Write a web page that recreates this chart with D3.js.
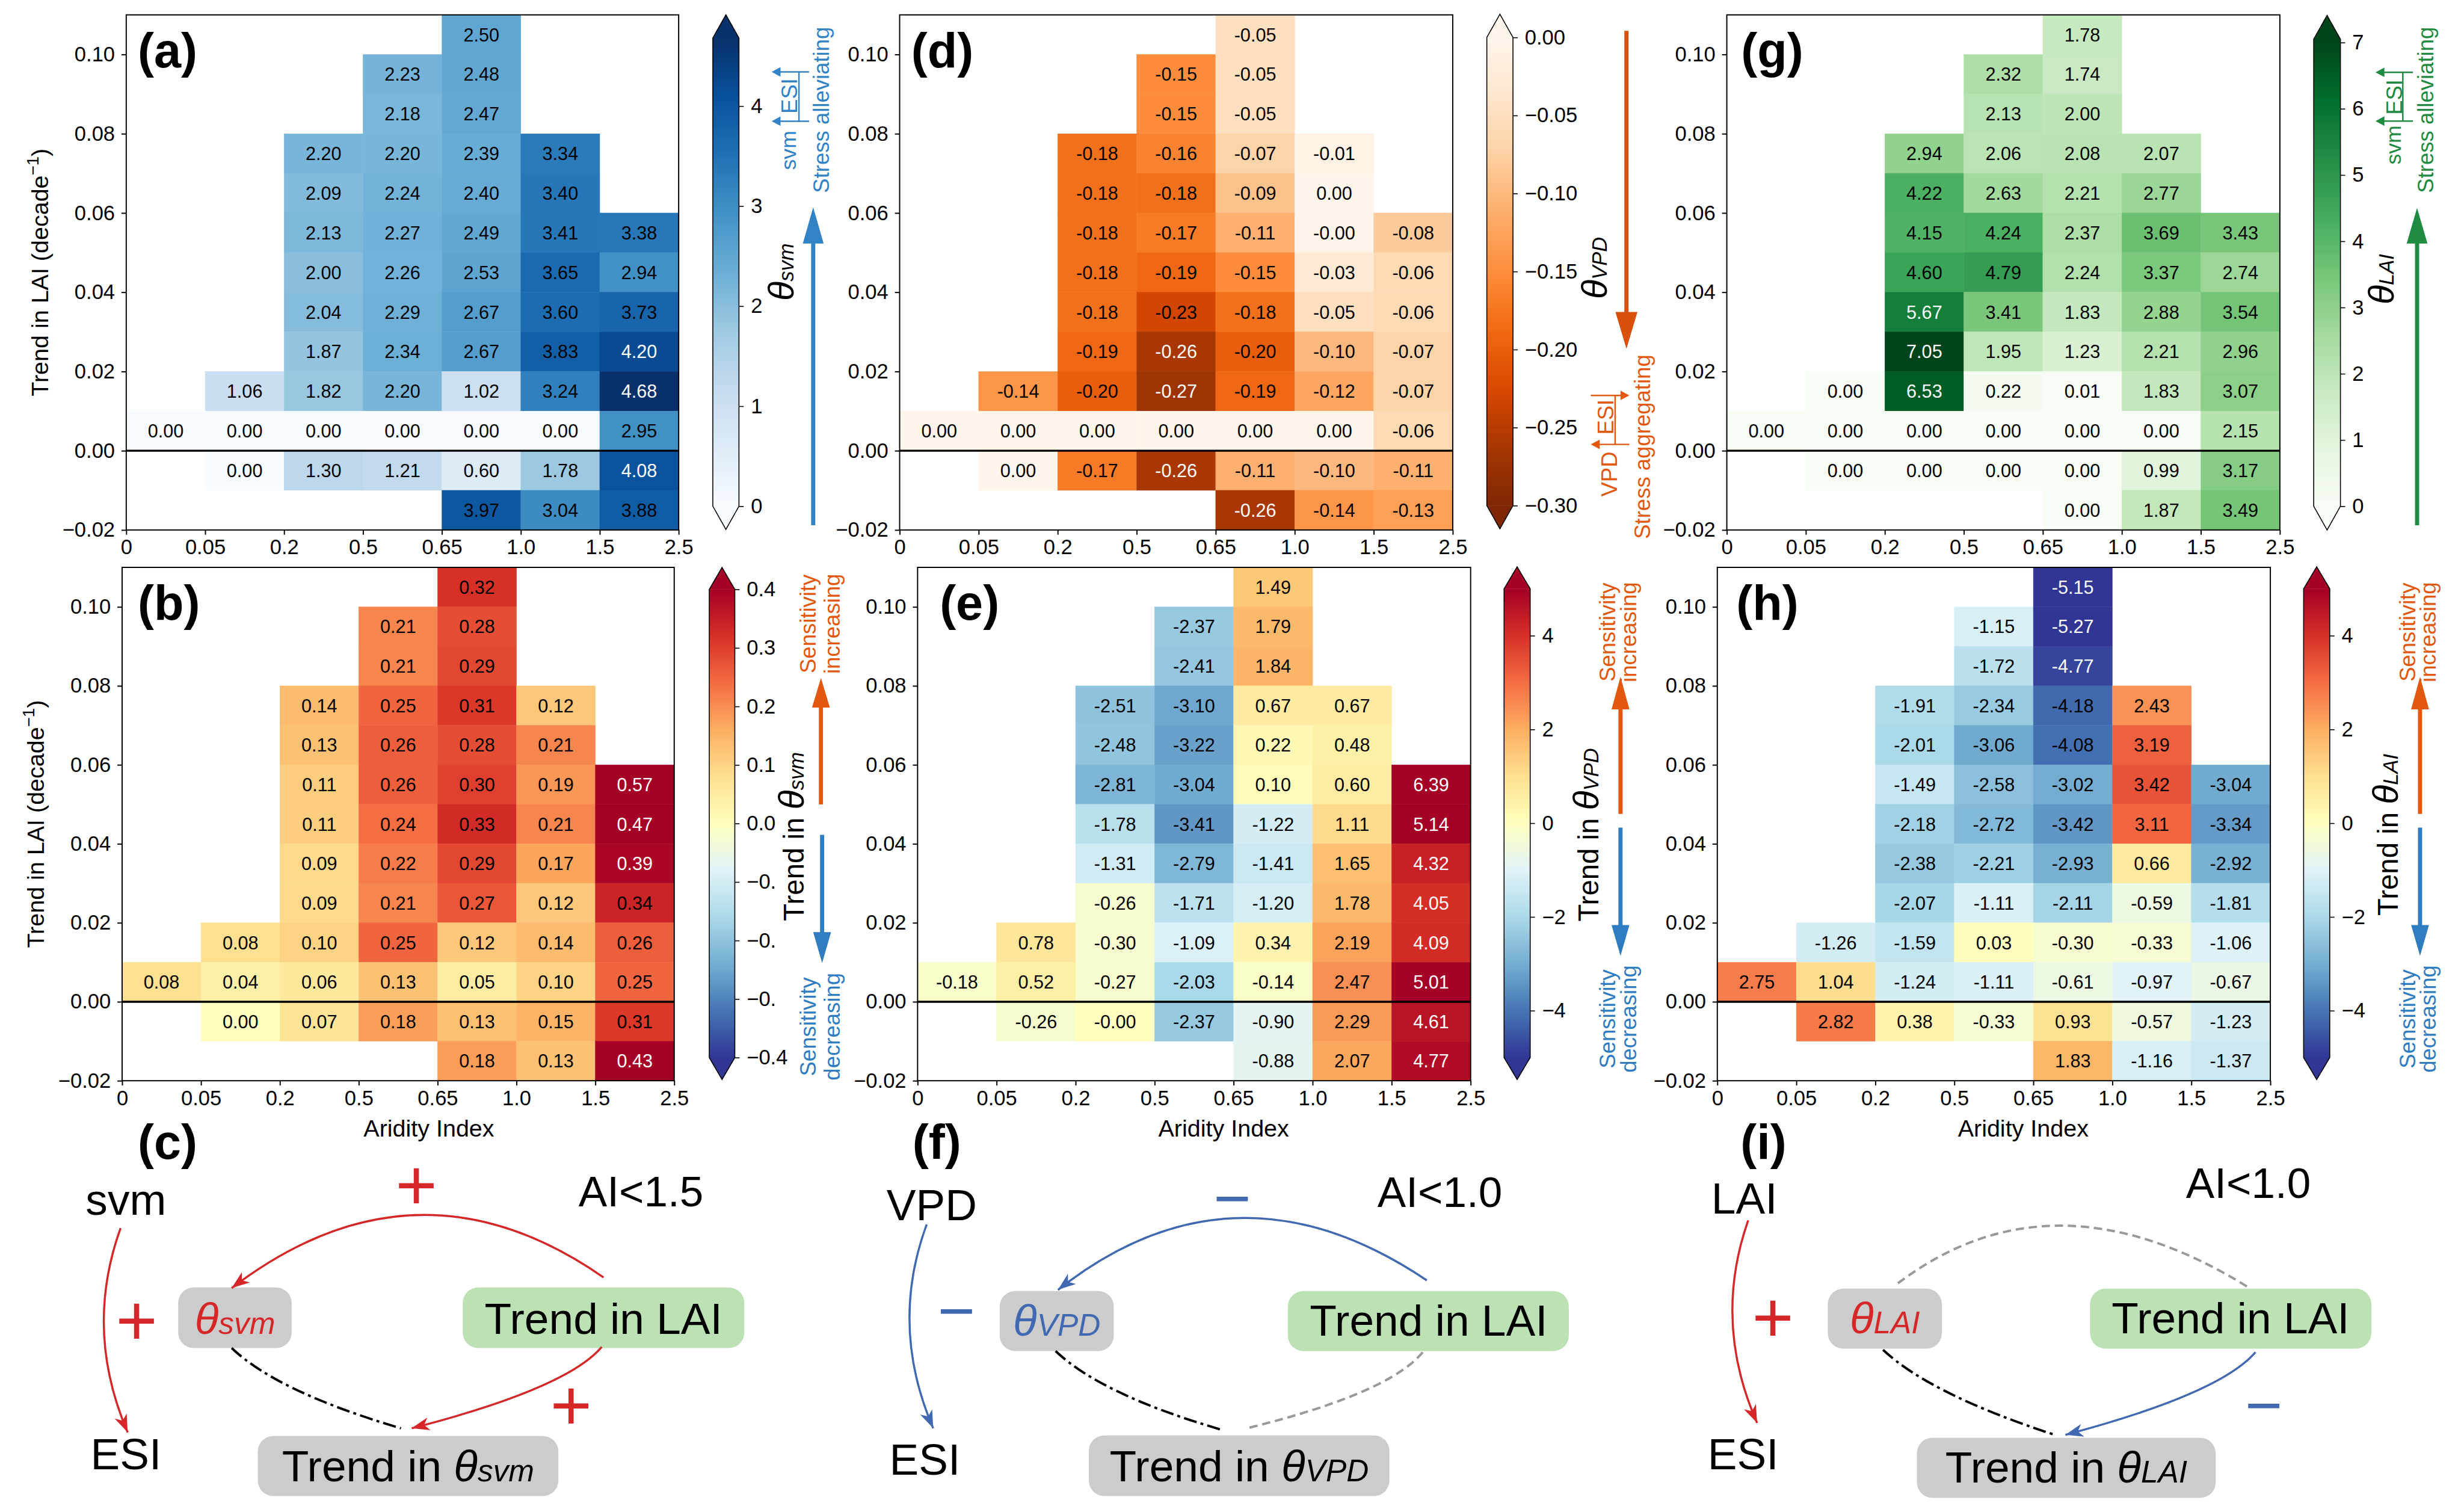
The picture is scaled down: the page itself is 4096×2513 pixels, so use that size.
<!DOCTYPE html>
<html>
<head>
<meta charset="utf-8">
<script src="https://cdn.jsdelivr.net/npm/d3@7"></script>
<style>
  body { margin: 0; background: #fff; }
  svg { display: block; }
  text { font-family: "Liberation Sans", Arial, Helvetica, sans-serif; }
</style>
</head>
<body>
<div id="chart"></div>
<script>
// ---------- DATA ----------
const aiTicks = ["0", "0.05", "0.2", "0.5", "0.65", "1.0", "1.5", "2.5"];
const trendTicks = [-0.02, 0.00, 0.02, 0.04, 0.06, 0.08, 0.10];
// lower edge of each row, top row first
const rowLows = [0.10, 0.09, 0.08, 0.07, 0.06, 0.05, 0.04, 0.03, 0.02, 0.01, 0.00, -0.01, -0.02];
const _ = null;

// (a) theta_svm
const thetaSvm = [
  [_, _, _, _, 2.50, _, _],
  [_, _, _, 2.23, 2.48, _, _],
  [_, _, _, 2.18, 2.47, _, _],
  [_, _, 2.20, 2.20, 2.39, 3.34, _],
  [_, _, 2.09, 2.24, 2.40, 3.40, _],
  [_, _, 2.13, 2.27, 2.49, 3.41, 3.38],
  [_, _, 2.00, 2.26, 2.53, 3.65, 2.94],
  [_, _, 2.04, 2.29, 2.67, 3.60, 3.73],
  [_, _, 1.87, 2.34, 2.67, 3.83, 4.20],
  [_, 1.06, 1.82, 2.20, 1.02, 3.24, 4.68],
  [0.00, 0.00, 0.00, 0.00, 0.00, 0.00, 2.95],
  [_, 0.00, 1.30, 1.21, 0.60, 1.78, 4.08],
  [_, _, _, _, 3.97, 3.04, 3.88]
];
// (b) trend in theta_svm
const trendSvm = [
  [_, _, _, _, 0.32, _, _],
  [_, _, _, 0.21, 0.28, _, _],
  [_, _, _, 0.21, 0.29, _, _],
  [_, _, 0.14, 0.25, 0.31, 0.12, _],
  [_, _, 0.13, 0.26, 0.28, 0.21, _],
  [_, _, 0.11, 0.26, 0.30, 0.19, 0.57],
  [_, _, 0.11, 0.24, 0.33, 0.21, 0.47],
  [_, _, 0.09, 0.22, 0.29, 0.17, 0.39],
  [_, _, 0.09, 0.21, 0.27, 0.12, 0.34],
  [_, 0.08, 0.10, 0.25, 0.12, 0.14, 0.26],
  [0.08, 0.04, 0.06, 0.13, 0.05, 0.10, 0.25],
  [_, 0.00, 0.07, 0.18, 0.13, 0.15, 0.31],
  [_, _, _, _, 0.18, 0.13, 0.43]
];
// (d) theta_VPD
const thetaVpd = [
  [_, _, _, _, -0.05, _, _],
  [_, _, _, -0.15, -0.05, _, _],
  [_, _, _, -0.15, -0.05, _, _],
  [_, _, -0.18, -0.16, -0.07, -0.01, _],
  [_, _, -0.18, -0.18, -0.09, 0.00, _],
  [_, _, -0.18, -0.17, -0.11, -0.002, -0.08],
  [_, _, -0.18, -0.19, -0.15, -0.03, -0.06],
  [_, _, -0.18, -0.23, -0.18, -0.05, -0.06],
  [_, _, -0.19, -0.26, -0.20, -0.10, -0.07],
  [_, -0.14, -0.20, -0.27, -0.19, -0.12, -0.07],
  [0.00, 0.00, 0.00, 0.00, 0.00, 0.00, -0.06],
  [_, 0.00, -0.17, -0.26, -0.11, -0.10, -0.11],
  [_, _, _, _, -0.26, -0.14, -0.13]
];
// (e) trend in theta_VPD
const trendVpd = [
  [_, _, _, _, 1.49, _, _],
  [_, _, _, -2.37, 1.79, _, _],
  [_, _, _, -2.41, 1.84, _, _],
  [_, _, -2.51, -3.10, 0.67, 0.67, _],
  [_, _, -2.48, -3.22, 0.22, 0.48, _],
  [_, _, -2.81, -3.04, 0.10, 0.60, 6.39],
  [_, _, -1.78, -3.41, -1.22, 1.11, 5.14],
  [_, _, -1.31, -2.79, -1.41, 1.65, 4.32],
  [_, _, -0.26, -1.71, -1.20, 1.78, 4.05],
  [_, 0.78, -0.30, -1.09, 0.34, 2.19, 4.09],
  [-0.18, 0.52, -0.27, -2.03, -0.14, 2.47, 5.01],
  [_, -0.26, -0.002, -2.37, -0.90, 2.29, 4.61],
  [_, _, _, _, -0.88, 2.07, 4.77]
];
// (g) theta_LAI
const thetaLai = [
  [_, _, _, _, 1.78, _, _],
  [_, _, _, 2.32, 1.74, _, _],
  [_, _, _, 2.13, 2.00, _, _],
  [_, _, 2.94, 2.06, 2.08, 2.07, _],
  [_, _, 4.22, 2.63, 2.21, 2.77, _],
  [_, _, 4.15, 4.24, 2.37, 3.69, 3.43],
  [_, _, 4.60, 4.79, 2.24, 3.37, 2.74],
  [_, _, 5.67, 3.41, 1.83, 2.88, 3.54],
  [_, _, 7.05, 1.95, 1.23, 2.21, 2.96],
  [_, 0.00, 6.53, 0.22, 0.01, 1.83, 3.07],
  [0.00, 0.00, 0.00, 0.00, 0.00, 0.00, 2.15],
  [_, 0.00, 0.00, 0.00, 0.00, 0.99, 3.17],
  [_, _, _, _, 0.00, 1.87, 3.49]
];
// (h) trend in theta_LAI
const trendLai = [
  [_, _, _, _, -5.15, _, _],
  [_, _, _, -1.15, -5.27, _, _],
  [_, _, _, -1.72, -4.77, _, _],
  [_, _, -1.91, -2.34, -4.18, 2.43, _],
  [_, _, -2.01, -3.06, -4.08, 3.19, _],
  [_, _, -1.49, -2.58, -3.02, 3.42, -3.04],
  [_, _, -2.18, -2.72, -3.42, 3.11, -3.34],
  [_, _, -2.38, -2.21, -2.93, 0.66, -2.92],
  [_, _, -2.07, -1.11, -2.11, -0.59, -1.81],
  [_, -1.26, -1.59, 0.03, -0.30, -0.33, -1.06],
  [2.75, 1.04, -1.24, -1.11, -0.61, -0.97, -0.67],
  [_, 2.82, 0.38, -0.33, 0.93, -0.57, -1.23],
  [_, _, _, _, 1.83, -1.16, -1.37]
];

// colorbar ticks
const cbTicksSvm = [0, 1, 2, 3, 4];
const cbTicksTrendSvm = [0.4, 0.3, 0.2, 0.1, 0.0, -0.1, -0.2, -0.3, -0.4];
const cbLabelsTrendSvm = ["0.4", "0.3", "0.2", "0.1", "0.0", "\u22120.", "\u22120.", "\u22120.", "\u22120.4"];
const cbTicksVpd = [0, -0.05, -0.10, -0.15, -0.20, -0.25, -0.30];
const cbTicksTrend = [-4, -2, 0, 2, 4];
const cbTicksLai = [0, 1, 2, 3, 4, 5, 6, 7];

// ---------- SETUP ----------
const svg = d3.select("#chart").append("svg")
  .attr("width", 4096).attr("height", 2513);
const root = svg.append("g").attr("transform", "scale(" + (4096 / 4148) + ")");

const minusFmt = d3.format(".2f");

function seqScale(scheme, vmin, vmax) {
  return d3.scaleLinear()
    .domain(scheme.map((s, i) => vmin + i * (vmax - vmin) / (scheme.length - 1)))
    .range(scheme).clamp(true);
}
const rdylbuR = d3.schemeRdYlBu[11].slice().reverse();
const orangesR = d3.schemeOranges[9].slice().reverse();

const cBlue = "#3283c6", cOrange = "#e2580e", cGreen = "#1f8b42", cSensBlue = "#2f7dc0";

// ---------- HEATMAPS ----------
function drawHeatmap(p) {
  const g = root.append("g");
  const x = d3.scaleLinear().domain([0, 7]).range([p.left, p.right]);
  const y = d3.scaleLinear().domain([-0.02, 0.11]).range([p.bottom, p.top]);

  const cells = [];
  p.data.forEach((row, r) => row.forEach((v, c) => { if (v !== null) cells.push({ r, c, v }); }));

  g.selectAll("rect.cell").data(cells).join("rect")
    .attr("class", "cell")
    .attr("x", d => x(d.c))
    .attr("y", d => y(rowLows[d.r] + 0.01))
    .attr("width", d => x(d.c + 1) - x(d.c))
    .attr("height", d => y(rowLows[d.r]) - y(rowLows[d.r] + 0.01))
    .attr("fill", d => p.color(d.v))
    .attr("stroke", d => p.color(d.v))
    .attr("stroke-width", 0.5);

  g.selectAll("text.cell").data(cells).join("text")
    .attr("class", "cell")
    .attr("x", d => (x(d.c) + x(d.c + 1)) / 2)
    .attr("y", d => y(rowLows[d.r] + 0.005))
    .attr("dy", "0.36em")
    .attr("text-anchor", "middle")
    .attr("font-size", 31)
    .attr("fill", d => p.white(d.v) ? "#fff" : "#000")
    .text(d => d.v.toFixed(2));

  // zero line
  g.append("line")
    .attr("x1", p.left).attr("x2", p.right)
    .attr("y1", y(0)).attr("y2", y(0))
    .attr("stroke", "#000").attr("stroke-width", 3.5);

  // frame
  g.append("rect")
    .attr("x", p.left).attr("y", p.top)
    .attr("width", p.right - p.left).attr("height", p.bottom - p.top)
    .attr("fill", "none").attr("stroke", "#000").attr("stroke-width", 2);

  const ya = g.append("g")
    .attr("transform", `translate(${p.left},0)`)
    .call(d3.axisLeft(y).tickValues(trendTicks).tickFormat(minusFmt).tickSize(8).tickPadding(11));
  const xa = g.append("g")
    .attr("transform", `translate(0,${p.bottom})`)
    .call(d3.axisBottom(x).tickValues(d3.range(8)).tickFormat(i => aiTicks[i]).tickSize(8).tickPadding(8));
  [ya, xa].forEach(a => {
    a.attr("font-size", 35).attr("font-family", null);
    a.select(".domain").remove();
    a.selectAll(".tick line").attr("stroke-width", 2);
  });

  if (p.ylabelX) {
    const t = g.append("text")
      .attr("transform", `translate(${p.ylabelX},${(p.top + p.bottom) / 2}) rotate(-90)`)
      .attr("text-anchor", "middle").attr("font-size", 40);
    t.append("tspan").text("Trend in LAI (decade");
    t.append("tspan").attr("font-size", 28).attr("dy", -16).text("\u22121");
    t.append("tspan").attr("dy", 16).text(")");
  }
  if (p.xlabelX) {
    g.append("text").attr("x", p.xlabelX).attr("y", 1913)
      .attr("text-anchor", "middle").attr("font-size", 40).text("Aridity Index");
  }
  g.append("text").attr("x", p.lx).attr("y", p.ly)
    .attr("font-size", 82).attr("font-weight", "bold").text(p.label);
}

const panels = [
  { data: thetaSvm, left: 212.5, right: 1142.5, top: 25, bottom: 892,
    color: seqScale(d3.schemeBlues[9], 0, 4.68), white: v => v > 4.0,
    label: "(a)", lx: 232, ly: 113, ylabelX: 81 },
  { data: trendSvm, left: 205.6, right: 1135, top: 955, bottom: 1819,
    color: seqScale(rdylbuR, -0.4, 0.4), white: v => Math.abs(v) > 0.36,
    label: "(b)", lx: 232, ly: 1043, ylabelX: 74, xlabelX: 722 },
  { data: thetaVpd, left: 1514.5, right: 2445.6, top: 25, bottom: 892,
    color: seqScale(orangesR, -0.3, 0), white: v => v < -0.255,
    label: "(d)", lx: 1534, ly: 113 },
  { data: trendVpd, left: 1544.7, right: 2475.7, top: 955, bottom: 1819,
    color: seqScale(rdylbuR, -5, 5), white: v => v > 4.0 || v < -4.5,
    label: "(e)", lx: 1582, ly: 1043, xlabelX: 2060 },
  { data: thetaLai, left: 2907, right: 3838, top: 25, bottom: 892,
    color: seqScale(d3.schemeGreens[9], 0, 7.05), white: v => v > 5.5,
    label: "(g)", lx: 2931, ly: 113 },
  { data: trendLai, left: 2891, right: 3822, top: 955, bottom: 1819,
    color: seqScale(rdylbuR, -5, 5), white: v => v > 4.0 || v < -4.5,
    label: "(h)", lx: 2923, ly: 1043, xlabelX: 3406 }
];
panels.forEach(drawHeatmap);

// ---------- COLORBARS ----------
function drawColorbar(cb) {
  const g = root.append("g");
  const s = d3.scaleLinear().domain([cb.vmin, cb.vmax]).range([cb.yBot, cb.yTop]);
  const n = 240, step = (cb.vmax - cb.vmin) / n;
  g.selectAll("rect").data(d3.range(n)).join("rect")
    .attr("x", cb.x0).attr("width", cb.x1 - cb.x0)
    .attr("y", i => s(cb.vmin + (i + 1) * step) - 0.4)
    .attr("height", i => s(cb.vmin + i * step) - s(cb.vmin + (i + 1) * step) + 0.8)
    .attr("fill", i => cb.color(cb.vmin + (i + 0.5) * step));
  const xm = (cb.x0 + cb.x1) / 2;
  g.append("path")
    .attr("d", `M${cb.x0},${cb.yTop}L${xm},${cb.yTop - cb.tip}L${cb.x1},${cb.yTop}Z`)
    .attr("fill", cb.color(cb.vmax));
  g.append("path")
    .attr("d", `M${cb.x0},${cb.yBot}L${xm},${cb.yBot + cb.tip}L${cb.x1},${cb.yBot}Z`)
    .attr("fill", cb.color(cb.vmin));
  g.append("path")
    .attr("d", `M${cb.x0},${cb.yTop}L${xm},${cb.yTop - cb.tip}L${cb.x1},${cb.yTop}L${cb.x1},${cb.yBot}L${xm},${cb.yBot + cb.tip}L${cb.x0},${cb.yBot}Z`)
    .attr("fill", "none").attr("stroke", "#000").attr("stroke-width", 1.6);
  const a = g.append("g").attr("transform", `translate(${cb.x1},0)`)
    .call(d3.axisRight(s).tickValues(cb.ticks).tickFormat(cb.fmt).tickSize(8).tickPadding(12));
  a.attr("font-size", 35).attr("font-family", null);
  a.select(".domain").remove();
  a.selectAll(".tick line").attr("stroke-width", 1.6);
}

const fmtInt = d => d3.format("d")(d);
const colorbars = [
  { x0: 1200, x1: 1244, yTop: 64, yBot: 852, tip: 39, vmin: 0, vmax: 4.68,
    color: panels[0].color, ticks: cbTicksSvm, fmt: fmtInt },
  { x0: 1194, x1: 1237, yTop: 992, yBot: 1780, tip: 37, vmin: -0.4, vmax: 0.4,
    color: panels[1].color, ticks: cbTicksTrendSvm, fmt: (d, i) => cbLabelsTrendSvm[i] },
  { x0: 2503, x1: 2547, yTop: 63, yBot: 851, tip: 39, vmin: -0.3, vmax: 0,
    color: panels[2].color, ticks: cbTicksVpd, fmt: d3.format(".2f") },
  { x0: 2532, x1: 2576, yTop: 991, yBot: 1780, tip: 37, vmin: -5, vmax: 5,
    color: panels[3].color, ticks: cbTicksTrend, fmt: fmtInt },
  { x0: 3895, x1: 3940, yTop: 66, yBot: 852, tip: 40, vmin: 0, vmax: 7.05,
    color: panels[4].color, ticks: cbTicksLai, fmt: fmtInt },
  { x0: 3878, x1: 3922, yTop: 991, yBot: 1780, tip: 37, vmin: -5, vmax: 5,
    color: panels[5].color, ticks: cbTicksTrend, fmt: fmtInt }
];
colorbars.forEach(drawColorbar);

// ---------- COLORBAR ANNOTATIONS ----------
function rotText(x, y, size, color) {
  return root.append("text")
    .attr("transform", `translate(${x},${y}) rotate(-90)`)
    .attr("text-anchor", "middle").attr("font-size", size).attr("fill", color);
}
function thetaLabel(x, y, prefix, sub) {
  const t = rotText(x, y, 48, "#000");
  if (prefix) t.append("tspan").text(prefix);
  t.append("tspan").attr("font-style", "italic").attr("font-size", 60).text("\u03b8");
  t.append("tspan").attr("font-style", "italic").attr("font-size", 35).text(sub);
}
function bigArrow(x, yTail, yTip, color, headL, headW, shaft) {
  const dir = yTip < yTail ? -1 : 1;
  const yb = yTip - dir * headL;
  root.append("path")
    .attr("d", `M${x - shaft / 2},${yTail}L${x - shaft / 2},${yb}L${x - headW / 2},${yb}L${x},${yTip}L${x + headW / 2},${yb}L${x + shaft / 2},${yb}L${x + shaft / 2},${yTail}Z`)
    .attr("fill", color);
}
function thinArrow(x1, y1, x2, y2, color) {
  const ang = Math.atan2(y2 - y1, x2 - x1), L = 15, hw = 8;
  const ux = Math.cos(ang), uy = Math.sin(ang);
  root.append("line").attr("x1", x1).attr("y1", y1)
    .attr("x2", x2 - ux * L * 0.8).attr("y2", y2 - uy * L * 0.8)
    .attr("stroke", color).attr("stroke-width", 2.5);
  const bx = x2 - ux * L, by = y2 - uy * L;
  root.append("path")
    .attr("d", `M${x2},${y2}L${bx - uy * hw},${by + ux * hw}L${bx + uy * hw},${by - ux * hw}Z`)
    .attr("fill", color);
}
function vline(x, y1, y2, color) {
  root.append("line").attr("x1", x).attr("x2", x).attr("y1", y1).attr("y2", y2)
    .attr("stroke", color).attr("stroke-width", 2.5);
}
function twoLine(x1, x2, y, l1, l2, color) {
  rotText(x1, y, 37, color).text(l1);
  rotText(x2, y, 37, color).text(l2);
}

// (a)
thetaLabel(1336, 458, null, "svm");
rotText(1340, 253, 36, cBlue).text("svm");
rotText(1342, 161.5, 37, cBlue).text("ESI");
thinArrow(1362, 121, 1299, 121, cBlue);
thinArrow(1362, 204, 1299, 204, cBlue);
vline(1345, 121, 204, cBlue);
rotText(1396, 185, 37, cBlue).text("Stress alleviating");
bigArrow(1369, 884, 349, cBlue, 61, 35, 7);

// (d)
thetaLabel(2705, 451, null, "VPD");
rotText(2722, 798, 37, cOrange).text("VPD");
rotText(2716, 702, 37, cOrange).text("ESI");
thinArrow(2678, 665.5, 2743, 665.5, cOrange);
thinArrow(2743, 748, 2678, 748, cOrange);
vline(2719, 665.5, 748, cOrange);
rotText(2778, 752, 37, cOrange).text("Stress aggregating");
bigArrow(2738, 52, 587, "#d9500c", 62, 37, 7);

// (g)
thetaLabel(4030, 470, null, "LAI");
rotText(4042, 244, 36, cGreen).text("svm");
rotText(4044, 163.5, 37, cGreen).text("ESI");
thinArrow(4062, 121.7, 3999, 121.7, cGreen);
thinArrow(4062, 203.8, 3999, 203.8, cGreen);
vline(4045, 121.7, 203.8, cGreen);
rotText(4096, 185, 37, cGreen).text("Stress alleviating");
bigArrow(4069, 884, 350, cGreen, 60, 35, 7);

// (b)
thetaLabel(1353, 1408, "Trend in ", "svm");
twoLine(1373.5, 1413.5, 1050, "Sensitivity", "increasing", cOrange);
twoLine(1373.5, 1413.5, 1728, "Sensitivity", "decreasing", cSensBlue);
bigArrow(1382, 1354, 1141, cOrange, 50, 30, 7);
bigArrow(1384, 1405, 1621, cSensBlue, 52, 30, 7);

// (e)
thetaLabel(2691, 1405, "Trend in ", "VPD");
twoLine(2719.5, 2754.5, 1064, "Sensitivity", "increasing", cOrange);
twoLine(2719.5, 2754.5, 1715, "Sensitivity", "decreasing", cSensBlue);
bigArrow(2728, 1370, 1139, cOrange, 55, 30, 7);
bigArrow(2728, 1393, 1609, cSensBlue, 52, 30, 7);

// (h)
thetaLabel(4037, 1405, "Trend in ", "LAI");
twoLine(4065.5, 4100.5, 1064, "Sensitivity", "increasing", cOrange);
twoLine(4065.5, 4100.5, 1715, "Sensitivity", "decreasing", cSensBlue);
bigArrow(4074, 1370, 1139, cOrange, 55, 30, 7);
bigArrow(4074, 1393, 1609, cSensBlue, 52, 30, 7);

// ---------- DIAGRAMS (c), (f), (i) ----------
const dRed = "#d62728", dBlue = "#4169b2", dGray = "#999999";
const boxGray = "#cccccc", boxGreen = "#bbe1b5";

function box(x0, y0, x1, y1, fill) {
  root.append("rect").attr("x", x0).attr("y", y0)
    .attr("width", x1 - x0).attr("height", y1 - y0)
    .attr("rx", 26).attr("fill", fill);
}
function plainText(x, y, str, size, color) {
  return root.append("text").attr("x", x).attr("y", y)
    .attr("text-anchor", "middle").attr("font-size", size).attr("fill", color || "#000").text(str);
}
function thetaBoxText(x, y, prefix, sub, color) {
  const t = root.append("text").attr("x", x).attr("y", y)
    .attr("text-anchor", "middle").attr("font-size", 74).attr("fill", color);
  if (prefix) t.append("tspan").text(prefix);
  t.append("tspan").attr("font-style", "italic").text("\u03b8");
  t.append("tspan").attr("font-style", "italic").attr("font-size", 52).text(sub);
}
function sign(cx, cy, s, color) {
  const size = s === "+" ? 120 : 108;
  plainText(cx, cy + 0.35 * size, s === "+" ? "+" : "\u2212", size, color);
}
function curve(p0, c, p2, color, width, dash, arrow) {
  const path = d3.path();
  path.moveTo(p0[0], p0[1]);
  path.quadraticCurveTo(c[0], c[1], p2[0], p2[1]);
  root.append("path").attr("d", path.toString())
    .attr("fill", "none").attr("stroke", color).attr("stroke-width", width)
    .attr("stroke-dasharray", dash || null);
  if (arrow) {
    const ang = Math.atan2(p2[1] - c[1], p2[0] - c[0]);
    const ux = Math.cos(ang), uy = Math.sin(ang), L = 30, hw = 11;
    const bx = p2[0] - ux * L, by = p2[1] - uy * L;
    const nx = p2[0] - ux * L * 0.72, ny = p2[1] - uy * L * 0.72;
    root.append("path")
      .attr("d", `M${p2[0]},${p2[1]}L${bx - uy * hw},${by + ux * hw}L${nx},${ny}L${bx + uy * hw},${by - ux * hw}Z`)
      .attr("fill", color);
  }
}
const dashDot = "22,7,5,7", dashed = "14,8";

// (c)
root.append("text").attr("x", 232).attr("y", 1950).attr("font-size", 82).attr("font-weight", "bold").text("(c)");
plainText(212, 2045, "svm", 74);
plainText(212, 2473, "ESI", 74);
plainText(1079, 2030, "AI<1.5", 72);
box(300, 2167, 491, 2269, boxGray);
box(779, 2167, 1253, 2269, boxGreen);
box(434, 2417, 940, 2518, boxGray);
thetaBoxText(395.5, 2245, null, "svm", dRed);
plainText(1016, 2245, "Trend in LAI", 74);
thetaBoxText(687, 2493, "Trend in ", "svm", "#000");
curve([203, 2067], [141, 2239], [215, 2411], dRed, 3.5, null, true);
curve([1016, 2150], [701, 1931], [390, 2168], dRed, 3.5, null, true);
curve([1013, 2267], [954, 2337], [693, 2404], dRed, 3.5, null, true);
curve([390, 2269], [468, 2343], [675, 2404], "#000", 4, dashDot, false);
sign(701, 1993.5, "+", dRed);
sign(230, 2221, "+", dRed);
sign(961.5, 2364.5, "+", dRed);

// (f)
root.append("text").attr("x", 1536).attr("y", 1950).attr("font-size", 82).attr("font-weight", "bold").text("(f)");
plainText(1568.5, 2054, "VPD", 74);
plainText(1557, 2482, "ESI", 74);
plainText(2424, 2031, "AI<1.0", 72);
box(1683, 2173, 1875, 2274, boxGray);
box(2168, 2173, 2641, 2274, boxGreen);
box(1833, 2416, 2339, 2518, boxGray);
thetaBoxText(1779, 2248, null, "VPD", dBlue);
plainText(2405, 2248, "Trend in LAI", 74);
thetaBoxText(2086, 2493, "Trend in ", "VPD", "#000");
curve([1560, 2061], [1497, 2232], [1571, 2404], dBlue, 3.5, null, true);
curve([2402, 2155], [2078, 1937], [1781, 2171], dBlue, 3.5, null, true);
curve([1777, 2274], [1855, 2348], [2058, 2407], "#000", 4, dashDot, false);
curve([2395, 2276], [2338, 2345], [2103, 2403], dGray, 4, dashed, false);
sign(2074.5, 2016, "-", dBlue);
sign(1610, 2205, "-", dBlue);

// (i)
root.append("text").attr("x", 2930).attr("y", 1950).attr("font-size", 82).attr("font-weight", "bold").text("(i)");
plainText(2936.5, 2043, "LAI", 74);
plainText(2934.5, 2473, "ESI", 74);
plainText(3785, 2016, "AI<1.0", 72);
box(3077, 2169, 3269, 2270, boxGray);
box(3518.5, 2169, 3992, 2270, boxGreen);
box(3227, 2420, 3730, 2521, boxGray);
thetaBoxText(3173, 2244.5, null, "LAI", dRed);
plainText(3755, 2244.5, "Trend in LAI", 74);
thetaBoxText(3478.5, 2495, "Trend in ", "LAI", "#000");
curve([2943, 2054], [2883, 2225], [2958, 2395], dRed, 3.5, null, true);
curve([3195, 2160], [3457, 1962], [3787, 2168], dGray, 4, dashed, false);
curve([3170, 2272], [3250, 2347], [3459, 2415], "#000", 4, dashDot, false);
curve([3797, 2276], [3737, 2346], [3477, 2415], dBlue, 3.5, null, true);
sign(2984.6, 2216, "+", dRed);
sign(3811, 2364, "-", dBlue);
</script>
</body>
</html>
